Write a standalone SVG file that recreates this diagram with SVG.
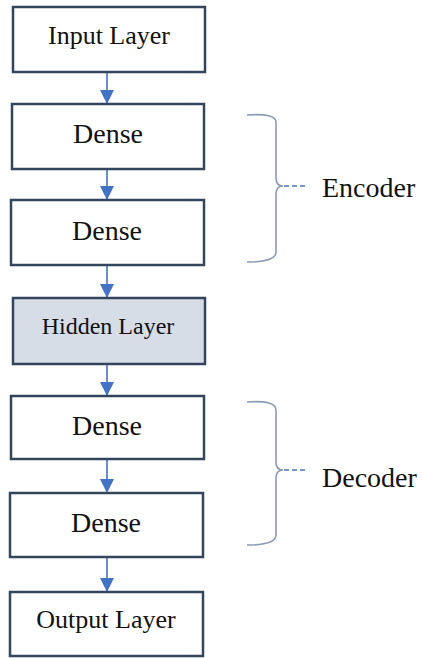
<svg xmlns="http://www.w3.org/2000/svg" width="422" height="658" viewBox="0 0 422 658">
<defs>
<marker id="ah" viewBox="0 0 14 14" refX="14" refY="7" markerWidth="14" markerHeight="14" markerUnits="userSpaceOnUse" orient="auto">
<path d="M0,0 L14,7 L0,14 Z" fill="#4472c4"/>
</marker>
</defs>
<g id="connectors" stroke="#4a72bd" stroke-width="1.6" fill="none" marker-end="url(#ah)">
<line x1="107" y1="72" x2="107" y2="104"/>
<line x1="107" y1="169" x2="107" y2="200"/>
<line x1="107" y1="265" x2="107" y2="298"/>
<line x1="107" y1="364" x2="107" y2="396"/>
<line x1="107" y1="459" x2="107" y2="493"/>
<line x1="107" y1="557" x2="107" y2="592"/>
</g>
<g id="nodes" font-family="'Times New Roman', 'Liberation Serif', serif" text-anchor="middle" fill="#111">
<g id="input">
<rect x="13" y="7" width="192" height="65" fill="#ffffff" stroke="#34465e" stroke-width="2.5"/>
<text x="109" y="44" font-size="26">Input Layer</text>
</g>
<g id="dense1">
<rect x="12" y="104" width="192" height="65" fill="#ffffff" stroke="#34465e" stroke-width="2.5"/>
<text x="108" y="143" font-size="28">Dense</text>
</g>
<g id="dense2">
<rect x="11" y="200" width="193" height="65" fill="#ffffff" stroke="#34465e" stroke-width="2.5"/>
<text x="107" y="240" font-size="28">Dense</text>
</g>
<g id="hidden">
<rect x="13" y="298" width="192" height="66" fill="#d7dde7" stroke="#34465e" stroke-width="2.5"/>
<text x="108" y="334" font-size="24">Hidden Layer</text>
</g>
<g id="dense3">
<rect x="11" y="396" width="193" height="63" fill="#ffffff" stroke="#34465e" stroke-width="2.5"/>
<text x="107" y="435" font-size="28">Dense</text>
</g>
<g id="dense4">
<rect x="10" y="493" width="193" height="64" fill="#ffffff" stroke="#34465e" stroke-width="2.5"/>
<text x="106" y="532" font-size="28">Dense</text>
</g>
<g id="output">
<rect x="10" y="592" width="193" height="64" fill="#ffffff" stroke="#34465e" stroke-width="2.5"/>
<text x="106" y="628" font-size="26">Output Layer</text>
</g>
</g>
<g id="encoder" font-family="'Times New Roman', 'Liberation Serif', serif" font-size="28">
<path d="M247,115 Q276,113 276,122 L276,178 Q276,186 283,186 Q276,186 276,194 L276,252 Q276,262 247,262" stroke="#8a9bb5" stroke-width="1.6" fill="none"/>
<line x1="284" y1="186" x2="307" y2="186" stroke="#4a72bd" stroke-width="1.6" stroke-dasharray="5 3"/>
<text x="322" y="197" fill="#111">Encoder</text>
</g>
<g id="decoder" font-family="'Times New Roman', 'Liberation Serif', serif" font-size="28">
<path d="M247,402 Q276,400 276,410 L276,462 Q276,470 283,470 Q276,470 276,478 L276,535 Q276,545 247,545" stroke="#8a9bb5" stroke-width="1.6" fill="none"/>
<line x1="284" y1="470" x2="307" y2="470" stroke="#4a72bd" stroke-width="1.6" stroke-dasharray="5 3"/>
<text x="322" y="487" fill="#111">Decoder</text>
</g>
</svg>
